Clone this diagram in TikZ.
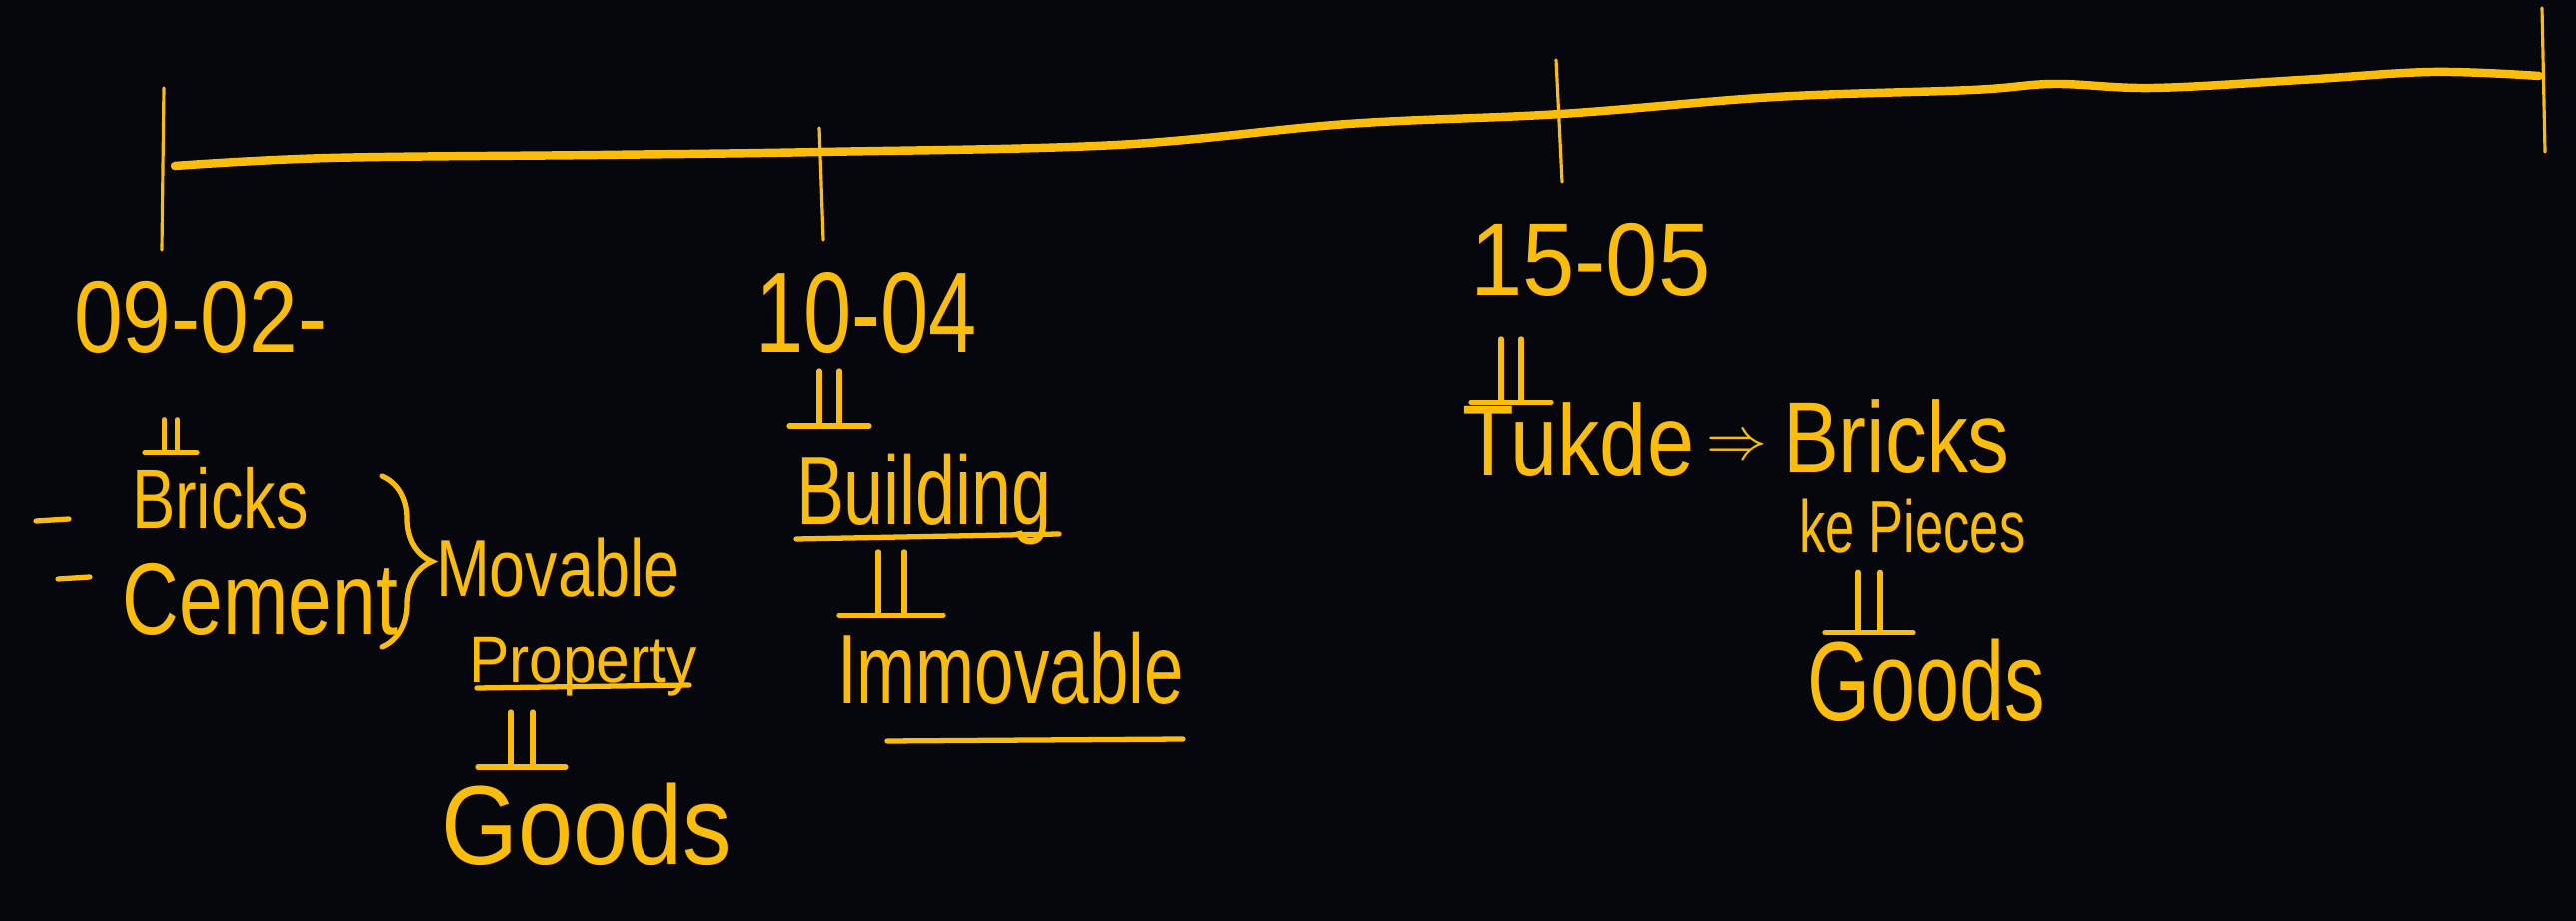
\documentclass[tikz,border=0pt]{standalone}
\usepackage{fontspec}
\setmainfont{Liberation Sans}
\usetikzlibrary{decorations.pathreplacing}
\definecolor{ink}{HTML}{FBBD0A}
\definecolor{bg}{HTML}{05070D}
\newcommand\hwx[2]{\scalebox{#1}[1]{#2}}
\newcommand\fs[1]{\fontsize{#1pt}{#1pt}\selectfont}
\begin{document}
\begin{tikzpicture}[x=0.01cm,y=-0.01cm,
  hw/.style={text=ink, inner sep=0pt, outer sep=0pt, anchor=base west},
  axis/.style={draw=ink, line width=2.4pt, line cap=round, line join=round},
  tickline/.style={draw=ink, line width=0.9pt, line cap=round},
  uline/.style={draw=ink, line width=1.5pt, line cap=round},
  dimp/.pic={\draw[uline] (-10,-27) -- (-10,26); \draw[uline] (10,-27) -- (10,26); \draw[uline] (-40,28) -- (40,28);}
]
\fill[bg] (0,0) rectangle (2578,922);
\useasboundingbox (0,0) rectangle (2578,922);

% timeline
\draw[axis] plot[smooth, tension=0.6] coordinates {(175,166) (330,158) (600,155) (822,152) (1118,145) (1349,124) (1562,114) (1776,97) (1974,90) (2056,84) (2155,88) (2303,80) (2434,72) (2541,76)};
\coordinate (k1a) at (164,88);  \coordinate (k1b) at (162,250);
\coordinate (k2a) at (820,128); \coordinate (k2b) at (824,240);
\coordinate (k3a) at (1557,60); \coordinate (k3b) at (1563,182);
\coordinate (k4a) at (2544,8);  \coordinate (k4b) at (2547,152);
\draw[tickline] (k1a) -- (k1b);
\draw[tickline] (k2a) -- (k2b);
\draw[tickline] (k3a) -- (k3b);
\draw[tickline] (k4a) -- (k4b);

% first column
\node[hw, font=\fs{29}] (d1) at (74,353) {\hwx{0.86}{09-02-}};
\pic[xscale=0.65, yscale=0.6] at (171,436) {dimp};
\coordinate (m1a) at (36,522); \coordinate (m1b) at (69,520);
\coordinate (m2a) at (58,580); \coordinate (m2b) at (90,578);
\draw[uline] (m1a) -- (m1b);
\draw[uline] (m2a) -- (m2b);
\node[hw, font=\fs{24}] (bricks1) at (132,530) {\hwx{0.77}{Bricks}};
\node[hw, font=\fs{29}] (cement) at (123,636) {\hwx{0.77}{Cement}};
\coordinate (bra) at (382,477); \coordinate (brb) at (382,648);
\draw[uline, decorate, decoration={brace, amplitude=0.5cm}] (bra) -- (brb);
\node[hw, font=\fs{23}] (movable) at (436,598) {\hwx{0.8}{Movable}};
\node[hw, font=\fs{18.7}] (property) at (469,684) {\hwx{0.92}{Property}};
\draw[uline] (property.base west) ++(8,5) -- ++(213,-3);
\pic[xscale=1.1, yscale=1.0] at (522,740) {dimp};
\node[hw, font=\fs{32}] (goods1) at (441,866) {\hwx{0.88}{Goods}};

% second column
\node[hw, font=\fs{32.6}] (d2) at (756,353) {\hwx{0.755}{10-04}};
\pic[xscale=1.0, yscale=1.0] at (830,398) {dimp};
\node[hw, font=\fs{28}] (building) at (797,526) {\hwx{0.73}{Building}};
\draw[uline] (building.base west) ++(0,14) -- ++(263,-5);
\pic[xscale=1.3, yscale=1.15] at (892,584) {dimp};
\node[hw, font=\fs{28}] (immovable) at (838,705) {\hwx{0.72}{Immovable}};
\draw[uline] (immovable.base west) ++(50,37) -- ++(296,-2);

% third column
\node[hw, font=\fs{29.4}] (d3) at (1471,296) {\hwx{0.91}{15-05}};
\pic[xscale=1.0, yscale=1.15] at (1512,370) {dimp};
\node[hw, font=\fs{29}] (tukde) at (1463,477) {\hwx{0.83}{Tukde}};
\node[text=ink, inner sep=0pt, font=\fs{19}] (impl) at (1738,448) {$\Rightarrow$};
\node[hw, font=\fs{29}] (bricks2) at (1784,474) {\hwx{0.82}{Bricks}};
\node[hw, font=\fs{21}] (pieces) at (1800,554) {\hwx{0.71}{ke Pieces}};
\pic[xscale=1.1, yscale=1.1] at (1870,603) {dimp};
\node[hw, font=\fs{32}] (goods2) at (1808,722) {\hwx{0.72}{Goods}};
\end{tikzpicture}
\end{document}
